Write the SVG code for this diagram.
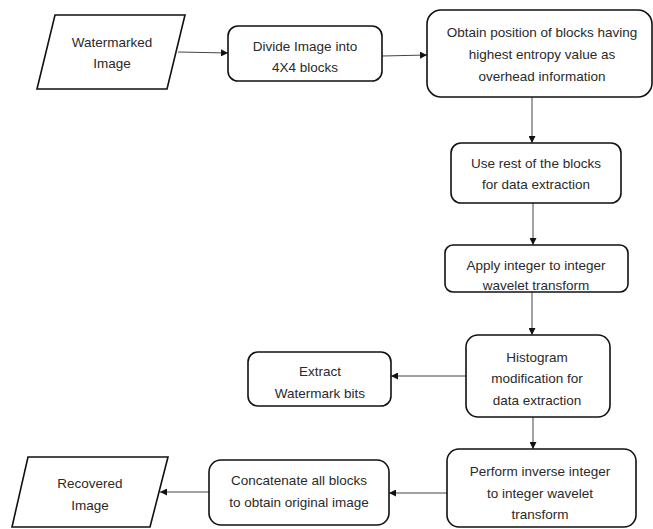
<svg xmlns="http://www.w3.org/2000/svg" width="653" height="529" viewBox="0 0 653 529">
<defs>
<marker id="arr" viewBox="0 0 10 10" refX="10" refY="5" markerWidth="7" markerHeight="7" markerUnits="userSpaceOnUse" orient="auto">
<path d="M0,0 L10,5 L0,10 z" fill="#111"/>
</marker>
<style>
.box{fill:#fff;stroke:#111;stroke-width:1.6}
.t{font-family:"Liberation Sans",Arial,sans-serif;font-size:13.5px;fill:#2a2a2a;text-anchor:middle;dominant-baseline:central}
.c{stroke:#444;stroke-width:1;fill:none;marker-end:url(#arr)}
</style>
</defs>
<rect width="653" height="529" fill="#fff"/>
<g id="connectors">
<line class="c" x1="178" y1="52" x2="228" y2="53"/>
<line class="c" x1="382" y1="56" x2="427" y2="55"/>
<line class="c" x1="532" y1="97" x2="532" y2="143"/>
<line class="c" x1="533" y1="203" x2="533" y2="245"/>
<line class="c" x1="532" y1="292" x2="532" y2="335"/>
<line class="c" x1="466" y1="376" x2="391" y2="376"/>
<line class="c" x1="533" y1="417" x2="533" y2="449"/>
<line class="c" x1="447" y1="493" x2="389" y2="493"/>
<line class="c" x1="209" y1="492" x2="160" y2="492"/>
</g>
<g id="watermarked">
<polygon class="box" points="55,15 185,15 167,89 37,89"/>
<text class="t" x="112" y="42">Watermarked</text>
<text class="t" x="112" y="63">Image</text>
</g>
<g id="divide">
<rect class="box" x="228" y="26" width="154" height="55" rx="10"/>
<text class="t" x="305" y="46">Divide Image into</text>
<text class="t" x="305" y="67">4X4 blocks</text>
</g>
<g id="obtain">
<rect class="box" x="427" y="10" width="225" height="87" rx="14"/>
<text class="t" x="542" y="32">Obtain position of blocks having</text>
<text class="t" x="542" y="54">highest entropy value as</text>
<text class="t" x="542" y="76">overhead information</text>
</g>
<g id="userest">
<rect class="box" x="451" y="143" width="170" height="60" rx="10"/>
<text class="t" x="536" y="163">Use rest of the blocks</text>
<text class="t" x="536" y="184">for data extraction</text>
</g>
<g id="apply">
<rect class="box" x="445" y="245" width="183" height="47" rx="8"/>
<text class="t" x="536" y="265">Apply integer to integer</text>
<text class="t" x="536" y="285">wavelet transform</text>
</g>
<g id="histogram">
<rect class="box" x="466" y="335" width="144" height="82" rx="12"/>
<text class="t" x="537" y="357">Histogram</text>
<text class="t" x="537" y="378">modification for</text>
<text class="t" x="537" y="400">data extraction</text>
</g>
<g id="extract">
<rect class="box" x="248" y="352" width="143" height="54" rx="10"/>
<text class="t" x="320" y="371">Extract</text>
<text class="t" x="320" y="393">Watermark bits</text>
</g>
<g id="perform">
<rect class="box" x="447" y="449" width="189" height="78" rx="12"/>
<text class="t" x="540" y="471">Perform inverse integer</text>
<text class="t" x="540" y="493">to integer wavelet</text>
<text class="t" x="540" y="514">transform</text>
</g>
<g id="concatenate">
<rect class="box" x="209" y="460" width="180" height="65" rx="12"/>
<text class="t" x="299" y="480">Concatenate all blocks</text>
<text class="t" x="299" y="502">to obtain original image</text>
</g>
<g id="recovered">
<polygon class="box" points="28,457 168,457 150,527 12,527"/>
<text class="t" x="90" y="483">Recovered</text>
<text class="t" x="90" y="505">Image</text>
</g>
</svg>
